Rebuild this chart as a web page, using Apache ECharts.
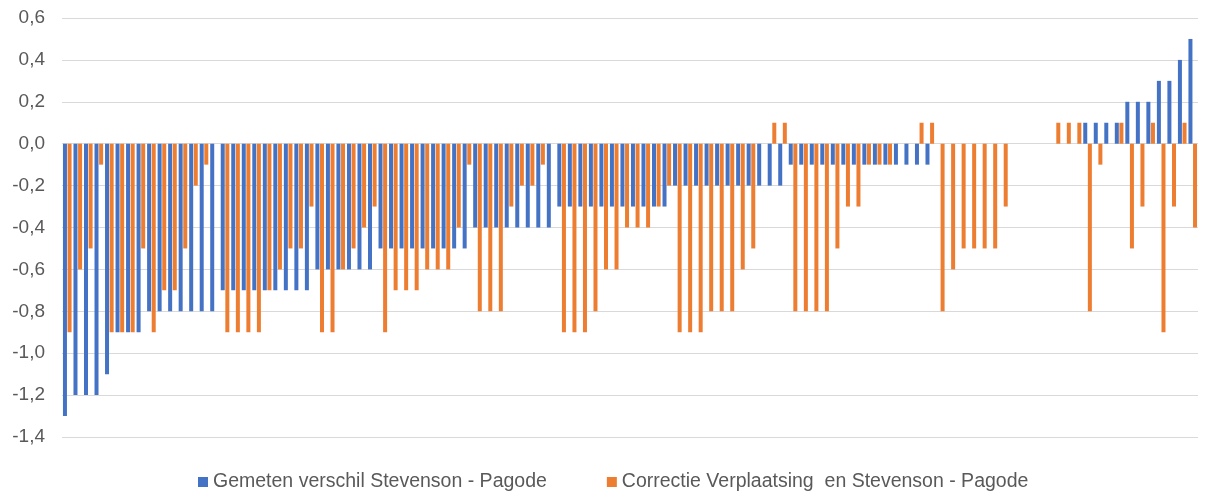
<!DOCTYPE html>
<html>
<head>
<meta charset="utf-8">
<script src="https://cdn.jsdelivr.net/npm/echarts@6/dist/echarts.min.js"></script>
<style>
  html, body { margin: 0; padding: 0; background: #fff; }
  #chart { width: 1206px; height: 497px; }
</style>
</head>
<body>
<div id="chart"></div>
<script>
var gemeten = [
  -1.3, -1.2, -1.2, -1.2, -1.1, -0.9, -0.9, -0.9, -0.8, -0.8,
  -0.8, -0.8, -0.8, -0.8, -0.8, -0.7, -0.7, -0.7, -0.7, -0.7,
  -0.7, -0.7, -0.7, -0.7, -0.6, -0.6, -0.6, -0.6, -0.6, -0.6,
  -0.5, -0.5, -0.5, -0.5, -0.5, -0.5, -0.5, -0.5, -0.5, -0.4,
  -0.4, -0.4, -0.4, -0.4, -0.4, -0.4, -0.4, -0.3, -0.3, -0.3,
  -0.3, -0.3, -0.3, -0.3, -0.3, -0.3, -0.3, -0.3, -0.2, -0.2,
  -0.2, -0.2, -0.2, -0.2, -0.2, -0.2, -0.2, -0.2, -0.2, -0.1,
  -0.1, -0.1, -0.1, -0.1, -0.1, -0.1, -0.1, -0.1, -0.1, -0.1,
  -0.1, -0.1, -0.1, 0, 0, 0, 0, 0, 0, 0,
  0, 0, 0, 0, 0, 0, 0, 0.1, 0.1, 0.1,
  0.1, 0.2, 0.2, 0.2, 0.3, 0.3, 0.4, 0.5
];
var correctie = [
  -0.9, -0.6, -0.5, -0.1, -0.9, -0.9, -0.9, -0.5, -0.9, -0.7,
  -0.7, -0.5, -0.2, -0.1, 0, -0.9, -0.9, -0.9, -0.9, -0.7,
  -0.6, -0.5, -0.5, -0.3, -0.9, -0.9, -0.6, -0.5, -0.4, -0.3,
  -0.9, -0.7, -0.7, -0.7, -0.6, -0.6, -0.6, -0.4, -0.1, -0.8,
  -0.8, -0.8, -0.3, -0.2, -0.2, -0.1, 0, -0.9, -0.9, -0.9,
  -0.8, -0.6, -0.6, -0.4, -0.4, -0.4, -0.3, -0.2, -0.9, -0.9,
  -0.9, -0.8, -0.8, -0.8, -0.6, -0.5, 0, 0.1, 0.1, -0.8,
  -0.8, -0.8, -0.8, -0.5, -0.3, -0.3, -0.1, -0.1, -0.1, 0,
  0, 0.1, 0.1, -0.8, -0.6, -0.5, -0.5, -0.5, -0.5, -0.3,
  0, 0, 0, 0, 0.1, 0.1, 0.1, -0.8, -0.1, 0,
  0.1, -0.5, -0.3, 0.1, -0.9, -0.3, 0.1, -0.4
];
var punten = gemeten.map(function (v, i) { return String(i + 1); });
var yMin = -1.4, yMax = 0.6, yStap = 0.2;

var chart = echarts.init(document.getElementById('chart'));
var option = {
    animation: false,
    textStyle: { fontFamily: 'Liberation Sans' },
    color: ['#4472C4', '#ED7D31'],
    grid: { left: 62, right: 8, top: 18, bottom: 60 },
    legend: {
        bottom: 0,
        left: 193,
        icon: 'rect',
        itemWidth: 10,
        itemHeight: 10,
        itemGap: 60,
        textStyle: { color: '#595959', fontSize: 19.5 },
        data: ['Gemeten verschil Stevenson - Pagode', 'Correctie Verplaatsing  en Stevenson - Pagode']
    },
    xAxis: {
        type: 'category',
        data: punten,
        axisLine: { show: false },
        axisTick: { show: false },
        axisLabel: { show: false }
    },
    yAxis: {
        type: 'value',
        min: yMin,
        max: yMax,
        interval: yStap,
        axisLine: { show: false },
        axisTick: { show: false },
        axisLabel: {
            color: '#595959',
            fontSize: 19,
            margin: 17,
            formatter: function (v) { return v.toFixed(1).replace('.', ','); }
        },
        splitLine: { lineStyle: { color: '#d9d9d9', width: 1 } }
    },
    series: [
        {
            name: 'Gemeten verschil Stevenson - Pagode',
            type: 'bar',
            barWidth: 4,
            barGap: '15%',
            data: gemeten
        },
        {
            name: 'Correctie Verplaatsing  en Stevenson - Pagode',
            type: 'bar',
            barWidth: 4,
            data: correctie
        }
    ]
};
chart.setOption(option);
</script>
</body>
</html>
